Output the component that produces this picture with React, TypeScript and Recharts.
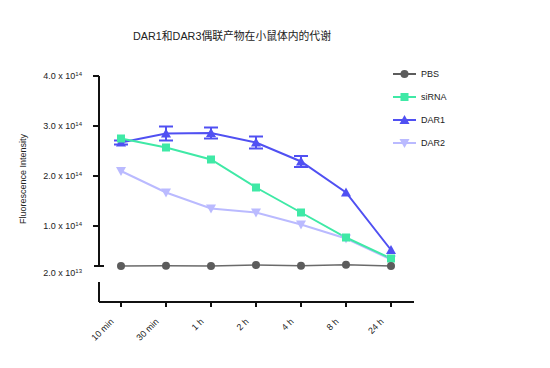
import React from "react";
import { LineChart, Line, XAxis, YAxis, ErrorBar } from "recharts";

const FONT = "'Liberation Sans', Arial, sans-serif";

const timepoints = ["10 min", "30 min", "1 h", "2 h", "4 h", "8 h", "24 h"];

// fluorescence intensity, in units of 1e14
const pbs = [0.2, 0.205, 0.2, 0.22, 0.205, 0.225, 0.2];
const sirna = [2.75, 2.57, 2.33, 1.77, 1.27, 0.77, 0.35];
const dar1 = [2.67, 2.85, 2.86, 2.67, 2.29, 1.67, 0.52];
const dar1Err = [0.04, 0.14, 0.11, 0.12, 0.11, null, null];
const dar2 = [2.1, 1.67, 1.35, 1.27, 1.03, 0.75, 0.33];

const yTicks = [0.2, 1, 2, 3, 4];
const yTickLabels = [
  ["2.0 x 10", "13"],
  ["1.0 x 10", "14"],
  ["2.0 x 10", "14"],
  ["3.0 x 10", "14"],
  ["4.0 x 10", "14"],
];
const yDomain = [0.2, 4];

const seriesNames = ["PBS", "siRNA", "DAR1", "DAR2"];
const seriesColors: Record<string, string> = {
  PBS: "#5c5c5c",
  siRNA: "#3fe9a6",
  DAR1: "#5050f2",
  DAR2: "#babaff",
};

const data = timepoints.map((t, i) => ({
  time: t,
  PBS: pbs[i],
  siRNA: sirna[i],
  DAR1: dar1[i],
  dar1Err: dar1Err[i],
  DAR2: dar2[i],
}));

// frame geometry shared by the stacked charts
const W = 550;
const H = 368;
const LEFT = 19;
const AXIS_W = 80;
const RIGHT = 136;
const UPPER = { top: 76, bottom: 102 };
const LOWER = { top: 282, bottom: 26 };

const Marker = ({ name, cx, cy }: { name: string; cx: number; cy: number }) => {
  const c = seriesColors[name];
  if (name === "PBS") return <circle cx={cx} cy={cy} r={4} fill={c} />;
  if (name === "siRNA")
    return <rect x={cx - 4} y={cy - 4} width={8} height={8} fill={c} />;
  if (name === "DAR1")
    return (
      <polygon
        points={`${cx},${cy - 5} ${cx - 5},${cy + 4} ${cx + 5},${cy + 4}`}
        fill={c}
      />
    );
  return (
    <polygon
      points={`${cx},${cy + 5} ${cx - 5},${cy - 4} ${cx + 5},${cy - 4}`}
      fill={c}
    />
  );
};

const dotFor = (name: string) => (p: any) =>
  <Marker key={`${name}-${p.index}`} name={name} cx={p.cx} cy={p.cy} />;

const YTick = (props: any) => {
  const { x, y, payload } = props;
  const i = yTicks.indexOf(payload.value);
  const base = i === 0;
  const [main, sup] = yTickLabels[i];
  return (
    <g>
      <line
        x1={base ? x - 5 : x - 6}
        x2={base ? x + 5 : x}
        y1={y}
        y2={y}
        stroke="#111"
        strokeWidth={2}
      />
      <text
        x={x - 17}
        y={y + (base ? 7 : 0)}
        dy="0.35em"
        textAnchor="end"
        fontSize={9}
        fill="#222"
        fontFamily={FONT}
      >
        {main}
        <tspan dy={-3.5} fontSize={6}>
          {sup}
        </tspan>
      </text>
    </g>
  );
};

const BreakTick = (props: any) => {
  const { x, y } = props;
  return (
    <line x1={x - 5} x2={x + 5} y1={y} y2={y} stroke="#111" strokeWidth={2} />
  );
};

const XTick = (props: any) => {
  const { x, y, payload } = props;
  const ax = x - 9;
  const ay = y + 11;
  return (
    <text
      x={ax}
      y={ay}
      dy="0.35em"
      transform={`rotate(-45 ${ax} ${ay})`}
      textAnchor="end"
      fontSize={9}
      fill="#222"
      fontFamily={FONT}
    >
      {payload.value}
    </text>
  );
};

const LegendBox = () => (
  <div
    style={{
      position: "absolute",
      left: 393,
      top: 62.5,
      fontFamily: FONT,
      fontSize: 9,
      color: "#222",
    }}
  >
    {seriesNames.map((n) => (
      <div key={n} style={{ display: "flex", alignItems: "center", height: 23 }}>
        <svg width={23} height={10}>
          <line x1={0} x2={23} y1={5} y2={5} stroke={seriesColors[n]} strokeWidth={2} />
          <Marker name={n} cx={11.5} cy={5} />
        </svg>
        <span style={{ marginLeft: 5 }}>{n}</span>
      </div>
    ))}
  </div>
);

const layer: React.CSSProperties = {
  position: "absolute",
  left: 0,
  top: 0,
  pointerEvents: "none",
};

const App = () => {
  return (
    <div
      style={{
        position: "absolute",
        left: 0,
        top: 0,
        width: W,
        height: H,
        background: "#fff",
      }}
    >
      <div
        style={{
          position: "absolute",
          left: 133,
          top: 27,
          fontSize: 10.8,
          fontFamily: "'Liberation Sans', 'Noto Sans CJK SC', sans-serif",
          color: "#222",
          whiteSpace: "nowrap",
        }}
      >
        DAR1和DAR3偶联产物在小鼠体内的代谢
      </div>
      <div
        style={{
          position: "absolute",
          left: 22.5,
          top: 178.5,
          transform: "translate(-50%, -50%) rotate(-90deg)",
          fontSize: 9,
          fontFamily: FONT,
          color: "#222",
          whiteSpace: "nowrap",
        }}
      >
        Fluorescence Intensity
      </div>

      {/* lower segment of the broken axis, with the time axis */}
      <div style={layer}>
        <LineChart
          width={W}
          height={H}
          data={data}
          margin={{ top: LOWER.top, right: RIGHT, left: LEFT, bottom: LOWER.bottom }}
        >
          <XAxis
            dataKey="time"
            height={40}
            padding={{ left: 22, right: 23 }}
            axisLine={{ stroke: "#111", strokeWidth: 2 }}
            tickLine={{ stroke: "#111", strokeWidth: 2 }}
            tickSize={5}
            interval={0}
            tick={<XTick />}
          />
          <YAxis
            width={AXIS_W}
            type="number"
            domain={[0, 1]}
            ticks={[1]}
            axisLine={{ stroke: "#111", strokeWidth: 2 }}
            tickLine={false}
            tickSize={0}
            tickMargin={0}
            tick={<BreakTick />}
          />
        </LineChart>
      </div>

      {/* upper segment: data and ticks */}
      <div style={layer}>
        <LineChart
          width={W}
          height={H}
          data={data}
          margin={{ top: UPPER.top, right: RIGHT, left: LEFT, bottom: UPPER.bottom }}
        >
          <XAxis dataKey="time" hide padding={{ left: 22, right: 23 }} />
          <YAxis
            width={AXIS_W}
            type="number"
            domain={yDomain}
            ticks={yTicks}
            axisLine={false}
            tickLine={false}
            tickSize={0}
            tickMargin={0}
            tick={<YTick />}
          />
          <Line
            dataKey="DAR2"
            stroke={seriesColors.DAR2}
            strokeWidth={2}
            dot={dotFor("DAR2")}
            isAnimationActive={false}
          />
          <Line
            dataKey="DAR1"
            stroke={seriesColors.DAR1}
            strokeWidth={2}
            dot={dotFor("DAR1")}
            isAnimationActive={false}
          >
            <ErrorBar
              dataKey="dar1Err"
              width={7}
              stroke={seriesColors.DAR1}
              strokeWidth={2}
              isAnimationActive={false}
            />
          </Line>
          <Line
            dataKey="siRNA"
            stroke={seriesColors.siRNA}
            strokeWidth={2}
            dot={dotFor("siRNA")}
            isAnimationActive={false}
          />
          <Line
            dataKey="PBS"
            stroke="#6a6a6a"
            strokeWidth={1.6}
            dot={dotFor("PBS")}
            isAnimationActive={false}
          />
        </LineChart>
      </div>

      {/* upper axis line, drawn on top of everything */}
      <svg style={layer} width={W} height={H}>
        <line
          x1={LEFT + AXIS_W}
          x2={LEFT + AXIS_W}
          y1={UPPER.top}
          y2={H - UPPER.bottom}
          stroke="#111"
          strokeWidth={2}
        />
      </svg>

      <LegendBox />
    </div>
  );
};

export default App;
